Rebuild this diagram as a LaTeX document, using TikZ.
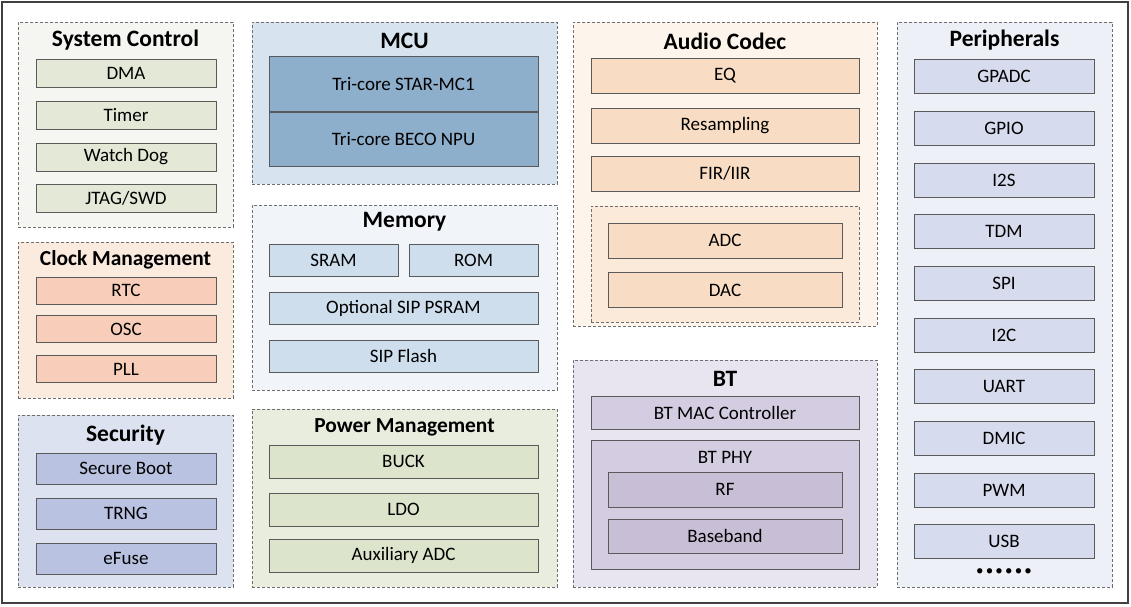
\documentclass[tikz,border=0pt]{standalone}
\usepackage{fontspec}
\setmainfont{Carlito}
\definecolor{framegray}{RGB}{64,64,64}
\definecolor{boxline}{RGB}{90,90,90}
\definecolor{grpline}{RGB}{110,110,110}
\definecolor{sysbg}{RGB}{245,246,241}
\definecolor{sysitem}{RGB}{227,233,214}
\definecolor{clkbg}{RGB}{251,234,222}
\definecolor{clkitem}{RGB}{248,206,186}
\definecolor{secbg}{RGB}{221,226,240}
\definecolor{secitem}{RGB}{185,194,225}
\definecolor{mcubg}{RGB}{215,227,238}
\definecolor{mcuitem}{RGB}{142,175,203}
\definecolor{membg}{RGB}{241,244,249}
\definecolor{memitem}{RGB}{207,222,236}
\definecolor{pwrbg}{RGB}{233,237,221}
\definecolor{pwritem}{RGB}{221,228,204}
\definecolor{audbg}{RGB}{253,244,236}
\definecolor{auditem}{RGB}{248,220,195}
\definecolor{audsub}{RGB}{251,233,218}
\definecolor{btbg}{RGB}{233,229,240}
\definecolor{btitem}{RGB}{212,204,224}
\definecolor{btsub}{RGB}{200,191,215}
\definecolor{perbg}{RGB}{238,240,248}
\definecolor{peritem}{RGB}{214,219,237}
\usetikzlibrary{positioning}

\begin{document}
\begin{tikzpicture}[x=1pt,y=-1pt,
    grp/.style={draw=grpline,line width=0.8pt,dash pattern=on 3pt off 2pt,anchor=north west,inner sep=0pt},
    blk/.style={draw=boxline,line width=0.9pt,inner sep=0pt,font=\fontsize{19}{22}\selectfont},
    ttl/.style={font=\fontsize{23.5}{27}\selectfont\bfseries,inner sep=0pt},
    ttlsm/.style={font=\fontsize{21.4}{25}\selectfont\bfseries,inner sep=0pt}]
        \useasboundingbox (0,0) rectangle (1131,606);
        \draw[draw=framegray,line width=2.2pt] (2,2) rectangle (1128,603);
        % system control
        \node[grp,fill=sysbg,minimum width=215pt,minimum height=205pt] (sysctl) at (18,22) {};
        \node[ttl] (sysctlT) at (125.5,40) {System Control};
        \node[blk,fill=sysitem,minimum width=180pt,minimum height=28pt] (dma) at (126,73) {DMA};
        \node[blk,fill=sysitem,minimum width=180pt,minimum height=28pt] (timer) at (126,115) {Timer};
        \node[blk,fill=sysitem,minimum width=180pt,minimum height=28pt] (wdog) at (126,157) {Watch Dog};
        \node[blk,fill=sysitem,minimum width=180pt,minimum height=28pt] (jtag) at (126,198) {JTAG/SWD};
        % clock management
        \node[grp,fill=clkbg,minimum width=215pt,minimum height=156pt] (clk) at (18,242) {};
        \node[ttlsm] (clkT) at (125.5,260) {Clock Management};
        \node[blk,fill=clkitem,minimum width=180pt,minimum height=27pt] (rtc) at (126,290.5) {RTC};
        \node[blk,fill=clkitem,minimum width=180pt,minimum height=27pt] (osc) at (126,329) {OSC};
        \node[blk,fill=clkitem,minimum width=180pt,minimum height=27pt] (pll) at (126,369) {PLL};
        % security
        \node[grp,fill=secbg,minimum width=215pt,minimum height=172pt] (sec) at (18,415) {};
        \node[ttl] (secT) at (125.5,435) {Security};
        \node[blk,fill=secitem,minimum width=180pt,minimum height=31pt] (sboot) at (126,468.5) {Secure Boot};
        \node[blk,fill=secitem,minimum width=180pt,minimum height=31pt] (trng) at (126,513.5) {TRNG};
        \node[blk,fill=secitem,minimum width=180pt,minimum height=31pt] (efuse) at (126,558.5) {eFuse};
        % mcu
        \node[grp,fill=mcubg,minimum width=305pt,minimum height=162pt] (mcu) at (252,22) {};
        \node[ttl] (mcuT) at (404.5,41) {MCU};
        \node[blk,fill=mcuitem,minimum width=269pt,minimum height=54.5pt] (star) at (403.5,84) {Tri-core STAR-MC1};
        \node[blk,fill=mcuitem,minimum width=269pt,minimum height=54.5pt,below=0pt of star] (beco) {Tri-core BECO NPU};
        % memory
        \node[grp,fill=membg,minimum width=305pt,minimum height=185pt] (mem) at (252,205) {};
        \node[ttl] (memT) at (404.5,222) {Memory};
        \node[blk,fill=memitem,minimum width=129pt,minimum height=32pt] (sram) at (333.5,260) {SRAM};
        \node[blk,fill=memitem,minimum width=129pt,minimum height=32pt] (rom) at (473.5,260) {ROM};
        \node[blk,fill=memitem,minimum width=269pt,minimum height=32pt] (psram) at (403.5,308) {Optional SIP PSRAM};
        \node[blk,fill=memitem,minimum width=269pt,minimum height=32pt] (flash) at (403.5,356) {SIP Flash};
        % power management
        \node[grp,fill=pwrbg,minimum width=305pt,minimum height=178pt] (pwr) at (252,409) {};
        \node[ttlsm] (pwrT) at (404.5,427) {Power Management};
        \node[blk,fill=pwritem,minimum width=269pt,minimum height=33pt] (buck) at (403.5,461.5) {BUCK};
        \node[blk,fill=pwritem,minimum width=269pt,minimum height=33pt] (ldo) at (403.5,509.5) {LDO};
        \node[blk,fill=pwritem,minimum width=269pt,minimum height=33pt] (auxadc) at (403.5,555.5) {Auxiliary ADC};
        % audio codec
        \node[grp,fill=audbg,minimum width=304pt,minimum height=304pt] (aud) at (573,22) {};
        \node[ttl] (audT) at (725,41) {Audio Codec};
        \node[blk,fill=auditem,minimum width=268pt,minimum height=35pt] (eq) at (725,75.5) {EQ};
        \node[blk,fill=auditem,minimum width=268pt,minimum height=35pt] (resamp) at (725,125.5) {Resampling};
        \node[blk,fill=auditem,minimum width=268pt,minimum height=35pt] (fir) at (725,173.5) {FIR/IIR};
        \node[grp,fill=audsub,minimum width=268pt,minimum height=116pt] (conv) at (591,206) {};
        \node[blk,fill=auditem,minimum width=234pt,minimum height=35pt] (adc) at (725,240.5) {ADC};
        \node[blk,fill=auditem,minimum width=234pt,minimum height=35pt] (dac) at (725,290) {DAC};
        % bt
        \node[grp,fill=btbg,minimum width=304pt,minimum height=227pt] (bt) at (573,360) {};
        \node[ttl] (btT) at (725,379) {BT};
        \node[blk,fill=btitem,minimum width=268pt,minimum height=33pt] (btmac) at (725,412.5) {BT MAC Controller};
        \node[blk,fill=btitem,minimum width=268pt,minimum height=129pt,anchor=north west] (btphy) at (591,440) {};
        \node[font=\fontsize{19}{22}\selectfont,inner sep=0pt] (btphyT) at (725,457) {BT PHY};
        \node[blk,fill=btsub,minimum width=234pt,minimum height=35pt] (rf) at (725,489.5) {RF};
        \node[blk,fill=btsub,minimum width=234pt,minimum height=34pt] (bband) at (725,536) {Baseband};
        % peripherals
        \node[grp,fill=perbg,minimum width=215pt,minimum height=565pt] (per) at (897,22) {};
        \node[ttl] (perT) at (1004.5,40) {Peripherals};
        \node[blk,fill=peritem,minimum width=180pt,minimum height=34pt] (gpadc) at (1004,76) {GPADC};
        \node[blk,fill=peritem,minimum width=180pt,minimum height=34pt] (gpio) at (1004,128) {GPIO};
        \node[blk,fill=peritem,minimum width=180pt,minimum height=34pt] (itwos) at (1004,180) {I2S};
        \node[blk,fill=peritem,minimum width=180pt,minimum height=34pt] (tdm) at (1004,231.5) {TDM};
        \node[blk,fill=peritem,minimum width=180pt,minimum height=34pt] (spi) at (1004,283) {SPI};
        \node[blk,fill=peritem,minimum width=180pt,minimum height=34pt] (itwoc) at (1004,335) {I2C};
        \node[blk,fill=peritem,minimum width=180pt,minimum height=34pt] (uart) at (1004,386.5) {UART};
        \node[blk,fill=peritem,minimum width=180pt,minimum height=34pt] (dmic) at (1004,438.5) {DMIC};
        \node[blk,fill=peritem,minimum width=180pt,minimum height=34pt] (pwm) at (1004,490.5) {PWM};
        \node[blk,fill=peritem,minimum width=180pt,minimum height=34pt] (usb) at (1004,541.5) {USB};
        \node[font=\fontsize{15}{18}\selectfont,inner sep=0pt] (more) at (1004,572.5) {•\kern2.2pt•\kern2.2pt•\kern2.2pt•\kern2.2pt•\kern2.2pt•};
      \end{tikzpicture}
\end{document}
